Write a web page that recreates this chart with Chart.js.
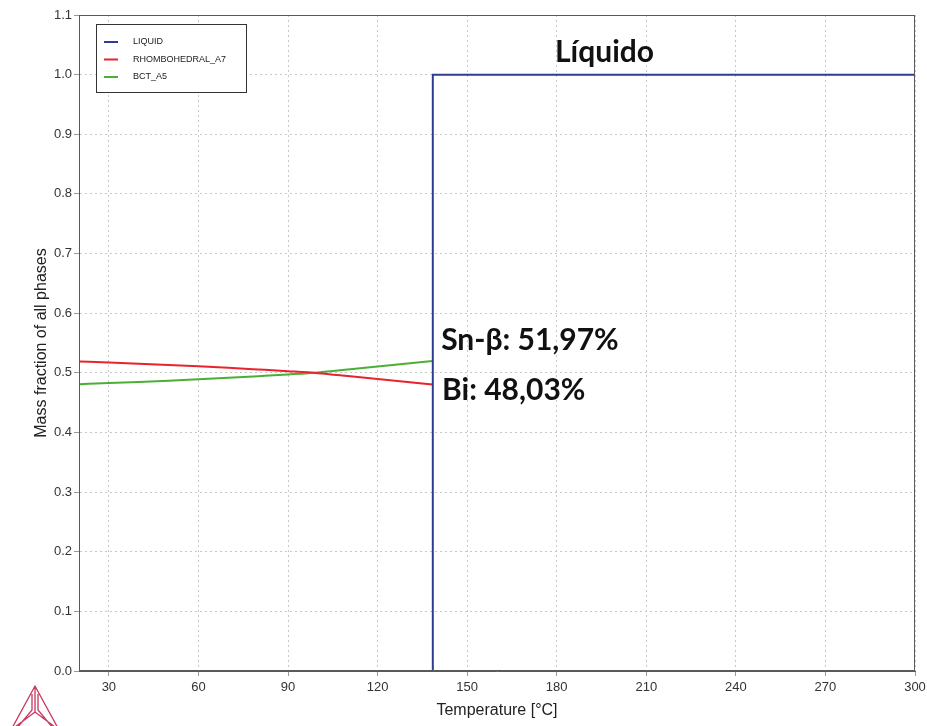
<!DOCTYPE html>
<html>
<head>
<meta charset="utf-8">
<script src="https://cdn.jsdelivr.net/npm/chart.js@4.4.1/dist/chart.umd.min.js"></script>
<style>
  html, body { margin: 0; padding: 0; background: #ffffff; }
  #wrap { width: 927px; height: 726px; position: relative; }
</style>
</head>
<body>
<div id="wrap"><canvas id="c" width="927" height="726"></canvas></div>
<script>
// Temperatures (°C) at which the solid phase fractions are sampled
const solidTemps = [20, 30, 40, 50, 60, 70, 80, 90, 100, 110, 120, 130, 138.5];
// RHOMBOHEDRAL_A7 (Bi) mass fraction
const rhomboValues = [0.5190, 0.5172, 0.5153, 0.5132, 0.5109, 0.5084, 0.5056, 0.5027, 0.4994, 0.4946, 0.4895, 0.4845, 0.4803];
// BCT_A5 (Sn-β) mass fraction
const bctValues = [0.4810, 0.4828, 0.4847, 0.4868, 0.4891, 0.4916, 0.4944, 0.4973, 0.5006, 0.5054, 0.5105, 0.5155, 0.5197];
// LIQUID mass fraction (step at the eutectic)
const liquidTemps = [20, 138.5, 138.5, 300];
const liquidValues = [0, 0, 1, 1];
// Axis ticks
const xTicks = [30, 60, 90, 120, 150, 180, 210, 240, 270, 300];
const yTicks = [0, 0.1, 0.2, 0.3, 0.4, 0.5, 0.6, 0.7, 0.8, 0.9, 1.0, 1.1];
// Series names and colours
const seriesNames = ['LIQUID', 'RHOMBOHEDRAL_A7', 'BCT_A5'];
const seriesColors = ['#2e3d92', '#e8232d', '#4caf35'];
// Final phase percentages at the eutectic
const snPercent = bctValues[bctValues.length - 1] * 100;
const biPercent = rhomboValues[rhomboValues.length - 1] * 100;

const toPts = (xs, ys) => xs.map((x, i) => ({ x: x, y: ys[i] }));
const fmtPct = v => v.toFixed(2).replace('.', ',') + '%';

const AXIS_FONT = "'Liberation Sans', Arial, sans-serif";
const NOTE_FONT = "Lato, 'Open Sans', sans-serif";

// Frame, inline legend box, annotation text and logo
const decor = {
  id: 'decor',
  afterDatasetsDraw(chart) {
    const ctx = chart.ctx;
    const a = chart.chartArea;
    const xs = chart.scales.x, ys = chart.scales.y;
    ctx.save();
    // plot frame
    ctx.strokeStyle = '#5a5a5a';
    ctx.lineWidth = 1;
    ctx.strokeRect(a.left + 0.5, a.top + 0.5, a.right - a.left - 1, a.bottom - a.top - 1);

    // legend box
    const bx = a.left + 17, by = a.top + 9, bw = 150, bh = 68;
    ctx.fillStyle = '#ffffff';
    ctx.fillRect(bx, by, bw, bh);
    ctx.strokeStyle = '#333333';
    ctx.strokeRect(bx + 0.5, by + 0.5, bw, bh);
    ctx.font = "9px " + AXIS_FONT;
    ctx.textBaseline = 'middle';
    ctx.textAlign = 'left';
    chart.data.datasets.forEach((ds, i) => {
      const yy = by + 18 + i * 17.5;
      ctx.strokeStyle = ds.borderColor;
      ctx.lineWidth = 2;
      ctx.beginPath();
      ctx.moveTo(bx + 8, yy);
      ctx.lineTo(bx + 22, yy);
      ctx.stroke();
      ctx.fillStyle = '#222222';
      ctx.fillText(ds.label, bx + 37, yy);
    });

    // annotations
    ctx.fillStyle = '#111111';
    ctx.font = "bold 30px " + NOTE_FONT;
    ctx.textAlign = 'center';
    ctx.fillText('Líquido', xs.getPixelForValue(196), ys.getPixelForValue(1.038));
    ctx.textAlign = 'left';
    ctx.fillText('Sn-β: ' + fmtPct(snPercent), xs.getPixelForValue(141.3), ys.getPixelForValue(0.555));
    ctx.fillText('Bi: ' + fmtPct(biPercent), xs.getPixelForValue(141.6), ys.getPixelForValue(0.471));

    // logo
    const cx = 35, top = 686, base = 730, half = 24, mid = 712;
    ctx.strokeStyle = '#c8375e';
    ctx.lineWidth = 1.3;
    ctx.beginPath();
    ctx.moveTo(cx, top); ctx.lineTo(cx - half, base); ctx.lineTo(cx + half, base); ctx.closePath();
    ctx.moveTo(cx, top); ctx.lineTo(cx, mid);
    ctx.moveTo(cx - half, base); ctx.lineTo(cx, mid); ctx.lineTo(cx + half, base);
    ctx.moveTo(cx - 3, top + 8); ctx.lineTo(cx - 3, mid - 2); ctx.lineTo(cx - half + 6, base - 2);
    ctx.moveTo(cx + 3, top + 8); ctx.lineTo(cx + 3, mid - 2); ctx.lineTo(cx + half - 6, base - 2);
    ctx.stroke();
    ctx.restore();
  }
};

new Chart(document.getElementById('c'), {
  type: 'line',
  data: {
    datasets: [
      { label: seriesNames[0], data: toPts(liquidTemps, liquidValues), borderColor: seriesColors[0], borderWidth: 2, pointRadius: 0, tension: 0 },
      { label: seriesNames[1], data: toPts(solidTemps, rhomboValues), borderColor: seriesColors[1], borderWidth: 2, pointRadius: 0, cubicInterpolationMode: 'monotone' },
      { label: seriesNames[2], data: toPts(solidTemps, bctValues), borderColor: seriesColors[2], borderWidth: 2, pointRadius: 0, cubicInterpolationMode: 'monotone' }
    ]
  },
  options: {
    responsive: false,
    animation: false,
    events: [],
    layout: { padding: { top: 15, right: 12, left: 0, bottom: 0 } },
    plugins: { legend: { display: false }, tooltip: { enabled: false } },
    scales: {
      x: {
        type: 'linear',
        min: 20, max: 300,
        afterBuildTicks: s => { s.ticks = xTicks.map(v => ({ value: v })); },
        afterFit: s => { s.height = 55; s.paddingLeft = 0; s.paddingRight = 0; },
        grid: { color: '#c8c8c8', tickColor: '#999999', tickLength: 5, lineWidth: 1 },
        border: { display: true, color: '#5a5a5a', dash: [2, 3] },
        ticks: { color: '#333333', font: { family: AXIS_FONT, size: 13 }, padding: 4, maxRotation: 0 },
        title: { display: true, text: 'Temperature [°C]', color: '#222222', font: { family: AXIS_FONT, size: 16 }, padding: { top: 0, bottom: 6 } }
      },
      y: {
        type: 'linear',
        min: 0, max: 1.1,
        afterBuildTicks: s => { s.ticks = yTicks.map(v => ({ value: v })); },
        afterFit: s => { s.width = 79; s.paddingTop = 0; s.paddingBottom = 0; },
        grid: { color: '#c8c8c8', tickColor: '#999999', tickLength: 5, lineWidth: 1 },
        border: { display: true, color: '#5a5a5a', dash: [2, 3] },
        ticks: { color: '#333333', font: { family: AXIS_FONT, size: 13 }, padding: 2, callback: v => Number(v).toFixed(1) },
        title: { display: true, text: 'Mass fraction of all phases', color: '#222222', font: { family: AXIS_FONT, size: 16 }, padding: { top: 32, bottom: 0 } }
      }
    }
  },
  plugins: [decor]
});
</script>
</body>
</html>
